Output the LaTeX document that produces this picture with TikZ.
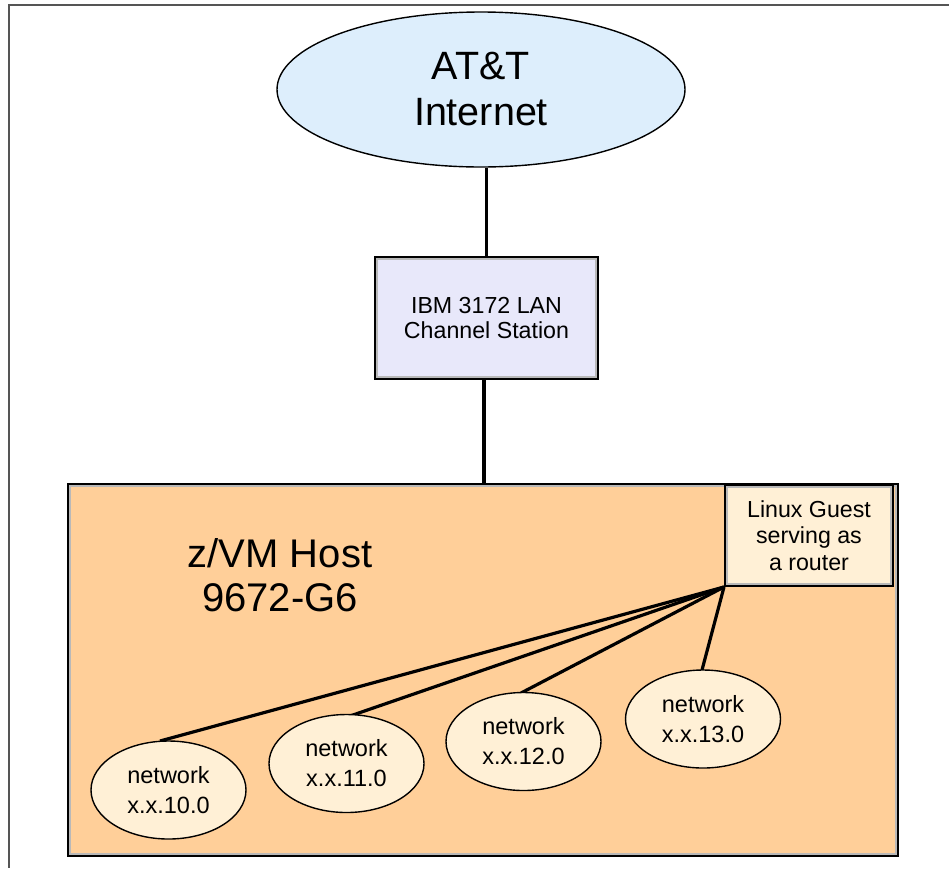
\documentclass[tikz,border=0pt]{standalone}
\usepackage{fontspec}
\setmainfont{Liberation Sans}
\usetikzlibrary{shapes.geometric}
\definecolor{attfill}{RGB}{221,238,252}
\definecolor{ibmfill}{RGB}{232,232,250}
\definecolor{hostfill}{RGB}{255,207,153}
\definecolor{creamfill}{RGB}{255,240,214}
\definecolor{innergray}{RGB}{185,185,185}
\definecolor{framecol}{RGB}{85,85,85}
\begin{document}
\begin{tikzpicture}[x=1pt,y=-1pt,
  boxnode/.style={draw=black, line width=3pt, rectangle, inner sep=0pt, align=center},
  netnode/.style={ellipse, draw=black, line width=1.4pt, fill=creamfill,
    minimum width=155pt, minimum height=98pt, inner sep=0pt, align=center,
    font=\fontsize{23.5}{30}\selectfont},
  conn/.style={line width=3.2pt, draw=black},
  innerline/.style={draw=innergray, line width=2.5pt}]
\useasboundingbox (0,0) rectangle (949,868);
% outer frame
\draw[framecol, line width=2pt] (949,5) -- (9,5) -- (9,868);

% AT&T Internet
\node[ellipse, draw=black, line width=1.4pt, fill=attfill, minimum width=408pt,
  minimum height=155pt, inner sep=0pt, align=center,
  font=\fontsize{39.5}{46}\selectfont] (att) at (481,89.5) {AT\&T\\Internet};

% IBM box
\node[boxnode, fill=ibmfill, minimum width=222pt, minimum height=121pt,
  font=\fontsize{23.2}{25}\selectfont] (ibm) at (486.5,318) {IBM 3172 LAN\\Channel Station};
\draw[innerline] ([shift={(3,3)}]ibm.north west) rectangle ([shift={(-3,-3)}]ibm.south east);

% host
\node[boxnode, fill=hostfill, minimum width=829pt, minimum height=371pt] (host) at (483,670) {};
\draw[innerline] ([shift={(3,3)}]host.north west) rectangle ([shift={(-3,-3)}]host.south east);
\node[inner sep=0pt, align=center, font=\fontsize{40}{44}\selectfont] (hostlabel) at (280,575) {z/VM Host\\9672-G6};

% Linux guest router
\node[boxnode, fill=creamfill, minimum width=167pt, minimum height=100pt,
  font=\fontsize{23.2}{26.5}\selectfont] (router) at (809,535.5) {Linux Guest\\serving as\\a router};
\draw[innerline] ([shift={(3,3)}]router.north west) rectangle ([shift={(-3,-3)}]router.south east);

% connectors top
\draw[conn] (ibm.north) -- (ibm.north |- att.south);
\draw[conn] ([xshift=-2.5pt]ibm.south) -- ([xshift=-2.5pt]ibm.south |- host.north);

% networks
\coordinate (n10top) at (160,741);
\coordinate (n11top) at (350,716);
\coordinate (n12top) at (521,693);
\coordinate (n13top) at (702,670);
\draw[conn] (router.south west) -- (n10top);
\draw[conn] (router.south west) -- (n11top);
\draw[conn] (router.south west) -- (n12top);
\draw[conn] (router.south west) -- (n13top);

\node[netnode] (n10) at (168.5,790) {network\\x.x.10.0};
\node[netnode] (n11) at (346.5,763.5) {network\\x.x.11.0};
\node[netnode] (n12) at (523.5,741.5) {network\\x.x.12.0};
\node[netnode] (n13) at (703,719) {network\\x.x.13.0};
\end{tikzpicture}
\end{document}
